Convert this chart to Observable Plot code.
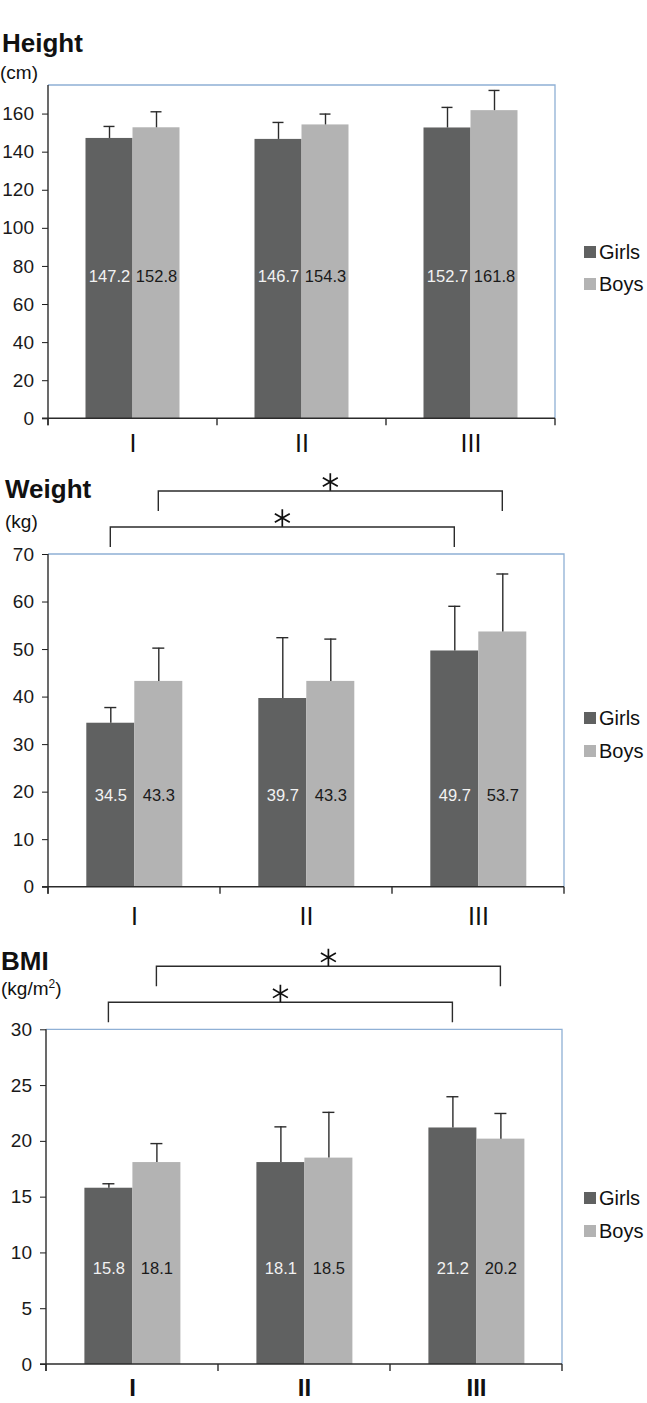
<!DOCTYPE html>
<html>
<head>
<meta charset="utf-8">
<script src="https://cdn.jsdelivr.net/npm/d3@7"></script>
<script src="https://cdn.jsdelivr.net/npm/@observablehq/plot@0.6"></script>
<style>
  html, body { margin: 0; padding: 0; background: #fff; overflow: hidden; }
  body { font-family: "Liberation Sans", Arial, sans-serif; color: #111; width: 647px; }
  .panel { position: relative; width: 647px; overflow: hidden; }
  .panel svg { position: absolute; left: 0; top: 0; }
  .title { position: absolute; font-weight: bold; font-size: 26px; line-height: 26px; white-space: nowrap; }
  .unit { position: absolute; font-size: 19px; line-height: 19px; white-space: nowrap; }
  .unit sup { font-size: 12px; vertical-align: 7px; line-height: 0; }
  .lg { position: absolute; left: 584px; font-size: 20px; line-height: 20px; height: 20px; white-space: nowrap; }
  .lg .sw { position: absolute; left: 0; top: 4px; width: 12px; height: 12px; }
  .lg .tx { position: absolute; left: 15px; top: 0; }
</style>
</head>
<body>
<div id="root"></div>
<script>
// ---------- data ----------
const groups = ["I", "II", "III"];
const sexes = ["Girls", "Boys"];
const sexColors = ["#606161", "#b3b3b3"];

const heightGirls = [147.2, 146.7, 152.7];
const heightBoys = [152.8, 154.3, 161.8];
const heightGirlsSD = [6.3, 8.9, 10.8];
const heightBoysSD = [8.4, 5.7, 10.6];
const heightTicks = [0, 20, 40, 60, 80, 100, 120, 140, 160];

const weightGirls = [34.5, 39.7, 49.7];
const weightBoys = [43.3, 43.3, 53.7];
const weightGirlsSD = [3.3, 12.8, 9.4];
const weightBoysSD = [7.0, 8.9, 12.2];
const weightTicks = [0, 10, 20, 30, 40, 50, 60, 70];

const bmiGirls = [15.8, 18.1, 21.2];
const bmiBoys = [18.1, 18.5, 20.2];
const bmiGirlsSD = [0.4, 3.2, 2.8];
const bmiBoysSD = [1.7, 4.1, 2.3];
const bmiTicks = [0, 5, 10, 15, 20, 25, 30];

// significance brackets: I vs III within each sex
const sigPairs = [
  {from: ["I", "Girls"], to: ["III", "Girls"], mark: "*"},
  {from: ["I", "Boys"], to: ["III", "Boys"], mark: "*"}
];

// ---------- panel layout ----------
const panels = [
  {title: "Height", unit: "(cm)", girls: heightGirls, boys: heightBoys, girlsSD: heightGirlsSD, boysSD: heightBoysSD,
   ticks: heightTicks, domain: [0, 175], labelAt: 74.7, sig: [],
   height: 468, mt: 85, mb: 49.7, ml: 47.5, mr: 91.2, catDy: 25, catSize: 25, bold: false,
   titleTop: 29.5, titleLeft: 2, unitTop: 63, unitLeft: 0, legendTop: 251.7},
  {title: "Weight", unit: "(kg)", girls: weightGirls, boys: weightBoys, girlsSD: weightGirlsSD, boysSD: weightBoysSD,
   ticks: weightTicks, domain: [0, 70], labelAt: 19.3, sig: sigPairs,
   height: 472, mt: 86, mb: 53.3, ml: 46.7, mr: 82.1, catDy: 30, catSize: 25, bold: false,
   titleTop: 8, titleLeft: 5, unitTop: 43.5, unitLeft: 5, legendTop: 250.3},
  {title: "BMI", unit: "(kg/m<sup>2</sup>)", girls: bmiGirls, boys: bmiBoys, girlsSD: bmiGirlsSD, boysSD: bmiBoysSD,
   ticks: bmiTicks, domain: [0, 30], labelAt: 8.58, sig: sigPairs,
   height: 463, mt: 89.3, mb: 39, ml: 44.6, mr: 84.2, catDy: 24, catSize: 24, bold: true,
   titleTop: 8, titleLeft: 1, unitTop: 38.5, unitLeft: 1, legendTop: 258.3}
];

const W = 647;
const root = document.getElementById("root");

for (const p of panels) {
  const rows = [];
  groups.forEach((g, i) => {
    rows.push({group: g, sex: "Girls", mean: p.girls[i], sd: p.girlsSD[i]});
    rows.push({group: g, sex: "Boys", mean: p.boys[i], sd: p.boysSD[i]});
  });

  const div = document.createElement("div");
  div.className = "panel";
  div.style.height = p.height + "px";
  root.appendChild(div);

  const plot = Plot.plot({
    width: W,
    height: p.height,
    marginTop: p.mt,
    marginBottom: p.mb,
    marginLeft: p.ml,
    marginRight: p.mr,
    style: {fontFamily: "'Liberation Sans', Arial, sans-serif", fontSize: "19px", color: "#1a1a1a", background: "transparent", overflow: "visible"},
    facet: {data: rows, x: "group"},
    fx: {domain: groups, padding: 0, axis: null, label: null},
    x: {domain: sexes, paddingInner: 0, paddingOuter: 0.79, axis: null},
    y: {domain: p.domain, ticks: p.ticks, tickSize: 6, tickPadding: 8.5, label: null},
    color: {domain: sexes, range: sexColors},
    marks: [
      Plot.barY(rows, {x: "sex", y: "mean", fill: "sex"}),
      Plot.ruleX(rows, {x: "sex", y1: "mean", y2: d => d.mean + d.sd, stroke: "#2b2b2b", strokeWidth: 1.4}),
      Plot.tickY(rows, {x: "sex", y: d => d.mean + d.sd, stroke: "#2b2b2b", strokeWidth: 1.4, insetLeft: 18, insetRight: 18}),
      Plot.text(rows, {filter: d => d.sex === "Girls", x: "sex", y: () => p.labelAt, text: d => d.mean.toFixed(1), fill: "#f2f2f2", fontSize: 16.5, lineAnchor: "middle"}),
      Plot.text(rows, {filter: d => d.sex === "Boys", x: "sex", y: () => p.labelAt, text: d => d.mean.toFixed(1), fill: "#1a1a1a", fontSize: 16.5, lineAnchor: "middle"}),
      Plot.text(rows, {filter: d => d.sex === "Girls", text: "group", frameAnchor: "bottom", dy: p.catDy, fontSize: p.catSize, fontWeight: p.bold ? "bold" : "normal", fill: "#111", lineAnchor: "middle"})
    ]
  });
  div.appendChild(plot);

  // frame, axis lines and brackets using the plot's own scales
  const fx = plot.scale("fx"), xs = plot.scale("x"), ys = plot.scale("y");
  const svg = d3.select(plot);
  const left = fx.apply(groups[0]);
  const right = fx.apply(groups[groups.length - 1]) + fx.bandwidth;
  const top = ys.apply(p.domain[1]);
  const base = ys.apply(0);
  const g = svg.append("g").attr("fill", "none").attr("stroke-linecap", "butt");
  // light blue frame (top & right)
  g.append("path").attr("d", `M${left},${top}H${right}V${base}`).attr("stroke", "#8fb0d5").attr("stroke-width", 1.3);
  // dark baseline and y axis line
  g.append("path").attr("d", `M${left - 6},${base}H${right}`).attr("stroke", "#2b2b2b").attr("stroke-width", 1.4);
  g.append("path").attr("d", `M${left},${top}V${base + 7}`).attr("stroke", "#2b2b2b").attr("stroke-width", 1.4);
  // category boundary ticks
  const bounds = groups.map(c => fx.apply(c)).concat([right]);
  for (const b of bounds) {
    g.append("path").attr("d", `M${b},${base}V${base + 7}`).attr("stroke", "#2b2b2b").attr("stroke-width", 1.4);
  }
  // significance brackets
  const cx = ([c, s]) => fx.apply(c) + (xs.apply(s) - xs.range[0]) + xs.bandwidth / 2;
  const levels = [{line: 27, end: 7}, {line: 63, end: 43}];
  p.sig.forEach((s, i) => {
    const lv = levels[i];
    const x1 = cx(s.from), x2 = cx(s.to);
    const yl = top - lv.line, ye = top - lv.end;
    g.append("path").attr("d", `M${x1},${ye}V${yl}H${x2}V${ye}`).attr("stroke", "#2b2b2b").attr("stroke-width", 1.4);
    g.append("path")
      .attr("d", d3.symbol(d3.symbolAsterisk, 210)())
      .attr("transform", `translate(${(x1 + x2) / 2},${yl - 9})`)
      .attr("stroke", "#111").attr("stroke-width", 1.7);
  });

  // titles
  const t = document.createElement("div");
  t.className = "title"; t.textContent = p.title;
  t.style.top = p.titleTop + "px"; t.style.left = p.titleLeft + "px";
  div.appendChild(t);
  const u = document.createElement("div");
  u.className = "unit"; u.innerHTML = p.unit;
  u.style.top = p.unitTop + "px"; u.style.left = p.unitLeft + "px";
  div.appendChild(u);

  // legend
  sexes.forEach((s, i) => {
    const l = document.createElement("div");
    l.className = "lg";
    l.style.top = (p.legendTop - 10 + i * 32.6) + "px";
    l.innerHTML = `<span class="sw" style="background:${sexColors[i]}"></span><span class="tx">${s}</span>`;
    div.appendChild(l);
  });
}
</script>
</body>
</html>
